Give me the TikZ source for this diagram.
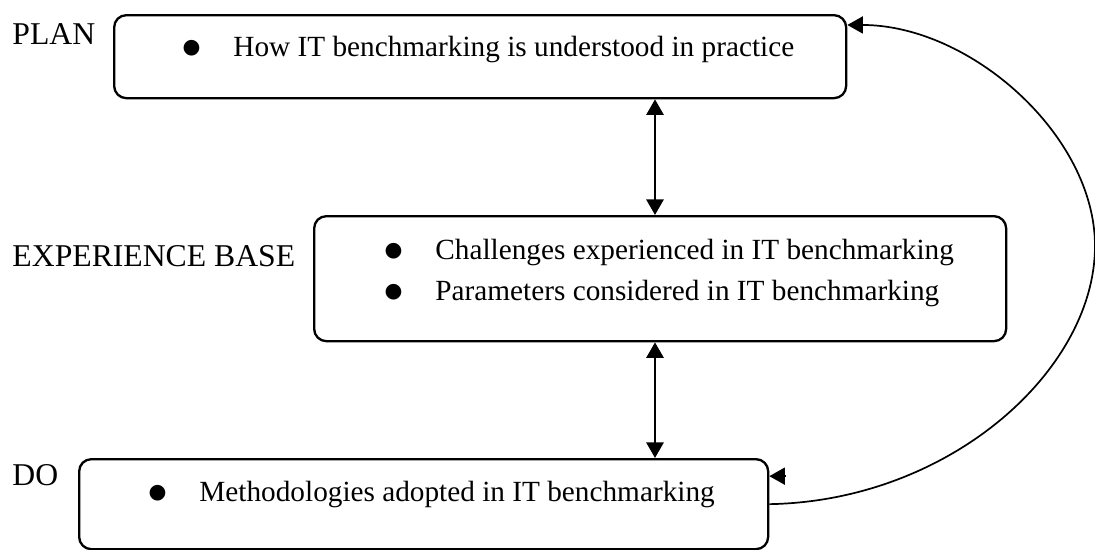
\documentclass[tikz,border=0pt]{standalone}
\usepackage{fontspec}
\setmainfont{Liberation Serif}
\newfontfamily\dotfont{DejaVu Sans}
\usetikzlibrary{arrows.meta}
\newlength{\pxl}
\setlength{\pxl}{0.41pt}
\newcommand{\bulletline}[1]{\makebox[0pt]{\raisebox{0.9pt}{\dotfont\fontsize{8.4}{8.4}\selectfont ●}}\hspace{17.2pt}#1}

\begin{document}
\begin{tikzpicture}[x=\pxl,y=-\pxl,
 stage/.style={draw,line width=0.95pt,rounded corners=5pt,anchor=north west,inner sep=0pt},
 phase/.style={anchor=base west,inner sep=0pt,font=\fontsize{13}{15.6}\selectfont},
 entry/.style={anchor=base west,inner sep=0pt,font=\fontsize{12}{14.4}\selectfont},
 link/.style={line width=1.1pt,{Triangle[length=6.4pt,width=7pt]}-{Triangle[length=6.4pt,width=7pt]}},
 feedback/.style={line width=0.7pt,-{Triangle[length=6.4pt,width=7pt]}}]
 \useasboundingbox (0,0) rectangle (1095,550);
 \node[stage,minimum width=732\pxl,minimum height=83\pxl] (plan) at (113,14) {};
 \node[stage,minimum width=692\pxl,minimum height=125\pxl] (exp) at (313,215) {};
 \node[stage,minimum width=689\pxl,minimum height=90\pxl] (do) at (78,458) {};
 \node[phase] (plan-label) at (12,45) {PLAN};
 \node[phase] (exp-label) at (12,266) {EXPERIENCE BASE};
 \node[phase] (do-label) at (12,485) {DO};
 \node[entry] (plan-1) at (191,56) {\bulletline{How IT benchmarking is understood in practice}};
 \node[entry] (exp-1) at (393,259) {\bulletline{Challenges experienced in IT benchmarking}};
 \node[entry] (exp-2) at (393,300) {\bulletline{Parameters considered in IT benchmarking}};
 \node[entry] (do-1) at (157,501) {\bulletline{Methodologies adopted in IT benchmarking}};
 \coordinate (axis) at (655,0);
 \draw[link] (axis |- plan.south) -- (axis |- exp.north);
 \draw[link] (axis |- exp.south) -- (axis |- do.north);
 \draw[feedback] (do.east) .. controls (950,501) and (1095,370) .. (1095,246)
  .. controls (1095,135) and (970,25) .. ([yshift=-4.5pt]plan.north east);
 \draw[feedback] ([shift={(16,-28)}]do.east) -- ([shift={(0,-28)}]do.east);
\end{tikzpicture}
\end{document}
